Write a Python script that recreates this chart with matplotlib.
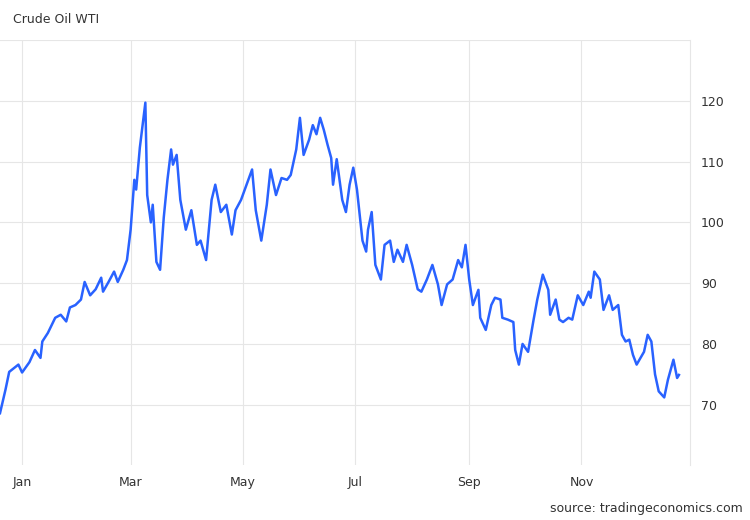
import numpy as np
import pandas as pd
import matplotlib
matplotlib.use("Agg")
import matplotlib.pyplot as plt

# days since 2022-01-01
days = [-12, -9, -7, -2, 0, 4, 7, 10, 11, 14, 18, 21, 24, 26, 29, 32, 34, 37, 40, 43,
        44, 47, 50, 52, 55, 57, 59, 61, 62, 64, 67, 68, 70, 71, 73, 75, 77, 79, 81, 82,
        84, 86, 89, 92, 95, 97, 100, 103, 105, 108, 111, 114, 116, 119, 122, 125, 127, 130, 133, 135,
        138, 141, 144, 146, 149, 151, 153, 156, 158, 160, 162, 164, 166, 168, 169, 171, 174, 176, 178, 180,
        182, 185, 187, 188, 190, 192, 195, 197, 200, 202, 204, 207, 209, 212, 215, 217, 220, 223, 226, 228,
        231, 234, 237, 239, 241, 243, 245, 248, 249, 252, 255, 257, 260, 261, 264, 267, 268, 270, 272, 275,
        278, 280, 283, 286, 287, 290, 292, 294, 297, 299, 302, 305, 308, 309, 311, 314, 316, 319, 321, 324,
        326, 328, 330, 332, 334, 338, 340, 342, 344, 346, 349, 351, 354, 356, 357]
prices = [68.6, 72.5, 75.4, 76.6, 75.3, 77.0, 79.0, 77.7, 80.4, 81.8, 84.3, 84.8, 83.7, 86.0, 86.4, 87.3, 90.2, 88.0, 89.0, 90.9,
          88.6, 90.2, 91.9, 90.2, 92.2, 93.8, 98.8, 107.0, 105.4, 112.3, 119.7, 104.5, 100.0, 102.9, 93.5, 92.2, 100.8, 107.0, 112.0, 109.5,
          111.1, 103.7, 98.8, 102.0, 96.3, 97.0, 93.8, 103.7, 106.2, 101.7, 102.9, 98.0, 102.0, 103.7, 106.2, 108.7, 102.0, 97.0, 102.9, 108.7,
          104.5, 107.3, 107.0, 107.8, 112.0, 117.2, 111.1, 113.6, 116.0, 114.5, 117.2, 115.2, 112.8, 110.6, 106.2, 110.4, 103.7, 101.7, 106.2, 109.0,
          105.4, 97.0, 95.2, 98.8, 101.7, 93.0, 90.6, 96.3, 97.0, 93.5, 95.5, 93.5, 96.3, 93.0, 89.0, 88.6, 90.6, 93.0, 89.8, 86.4,
          89.8, 90.6, 93.8, 92.6, 96.3, 90.6, 86.4, 88.9, 84.3, 82.3, 86.4, 87.6, 87.3, 84.3, 84.0, 83.6, 79.0, 76.6, 80.0, 78.7,
          84.0, 87.3, 91.4, 88.9, 84.8, 87.3, 84.0, 83.6, 84.3, 84.0, 88.0, 86.4, 88.6, 87.6, 91.9, 90.6, 85.6, 88.0, 85.6, 86.4,
          81.5, 80.4, 80.7, 78.2, 76.6, 78.7, 81.5, 80.4, 75.0, 72.2, 71.2, 74.1, 77.4, 74.4, 74.9]

start = pd.Timestamp("2022-01-01")
dates = start + pd.to_timedelta(days, unit="D")

month_ticks = pd.to_datetime(["2022-01-01", "2022-03-01", "2022-05-01",
                              "2022-07-01", "2022-09-01", "2022-11-01"])
month_labels = ["Jan", "Mar", "May", "Jul", "Sep", "Nov"]
y_ticks = [70, 80, 90, 100, 110, 120]

fig = plt.figure(figsize=(7.5, 5.2), dpi=100)
ax = fig.add_axes([0.0, 0.106, 0.92, 0.817])

ax.plot(dates, prices, color="#2962ff", lw=1.8)

ax.set_xlim(start + pd.Timedelta(days=-12), start + pd.Timedelta(days=363))
ax.set_ylim(60.1, 130)
ax.set_xticks(month_ticks)
ax.set_xticklabels(month_labels)
ax.set_yticks(y_ticks)
ax.yaxis.tick_right()
ax.tick_params(length=0, labelsize=9, colors="#333333", pad=8)
ax.grid(True, color="#e6e6e6", lw=0.8)
for s in ["left", "top", "bottom"]:
    ax.spines[s].set_visible(False)
ax.spines["right"].set_color("#e6e6e6")
ax.axhline(130, color="#e6e6e6", lw=0.8)

fig.text(0.017, 0.963, "Crude Oil WTI", fontsize=9, color="#333333", va="center")
fig.text(0.99, 0.015, "source: tradingeconomics.com", fontsize=9, color="#333333", ha="right")

fig.savefig("out.png", dpi=100, facecolor="white")
